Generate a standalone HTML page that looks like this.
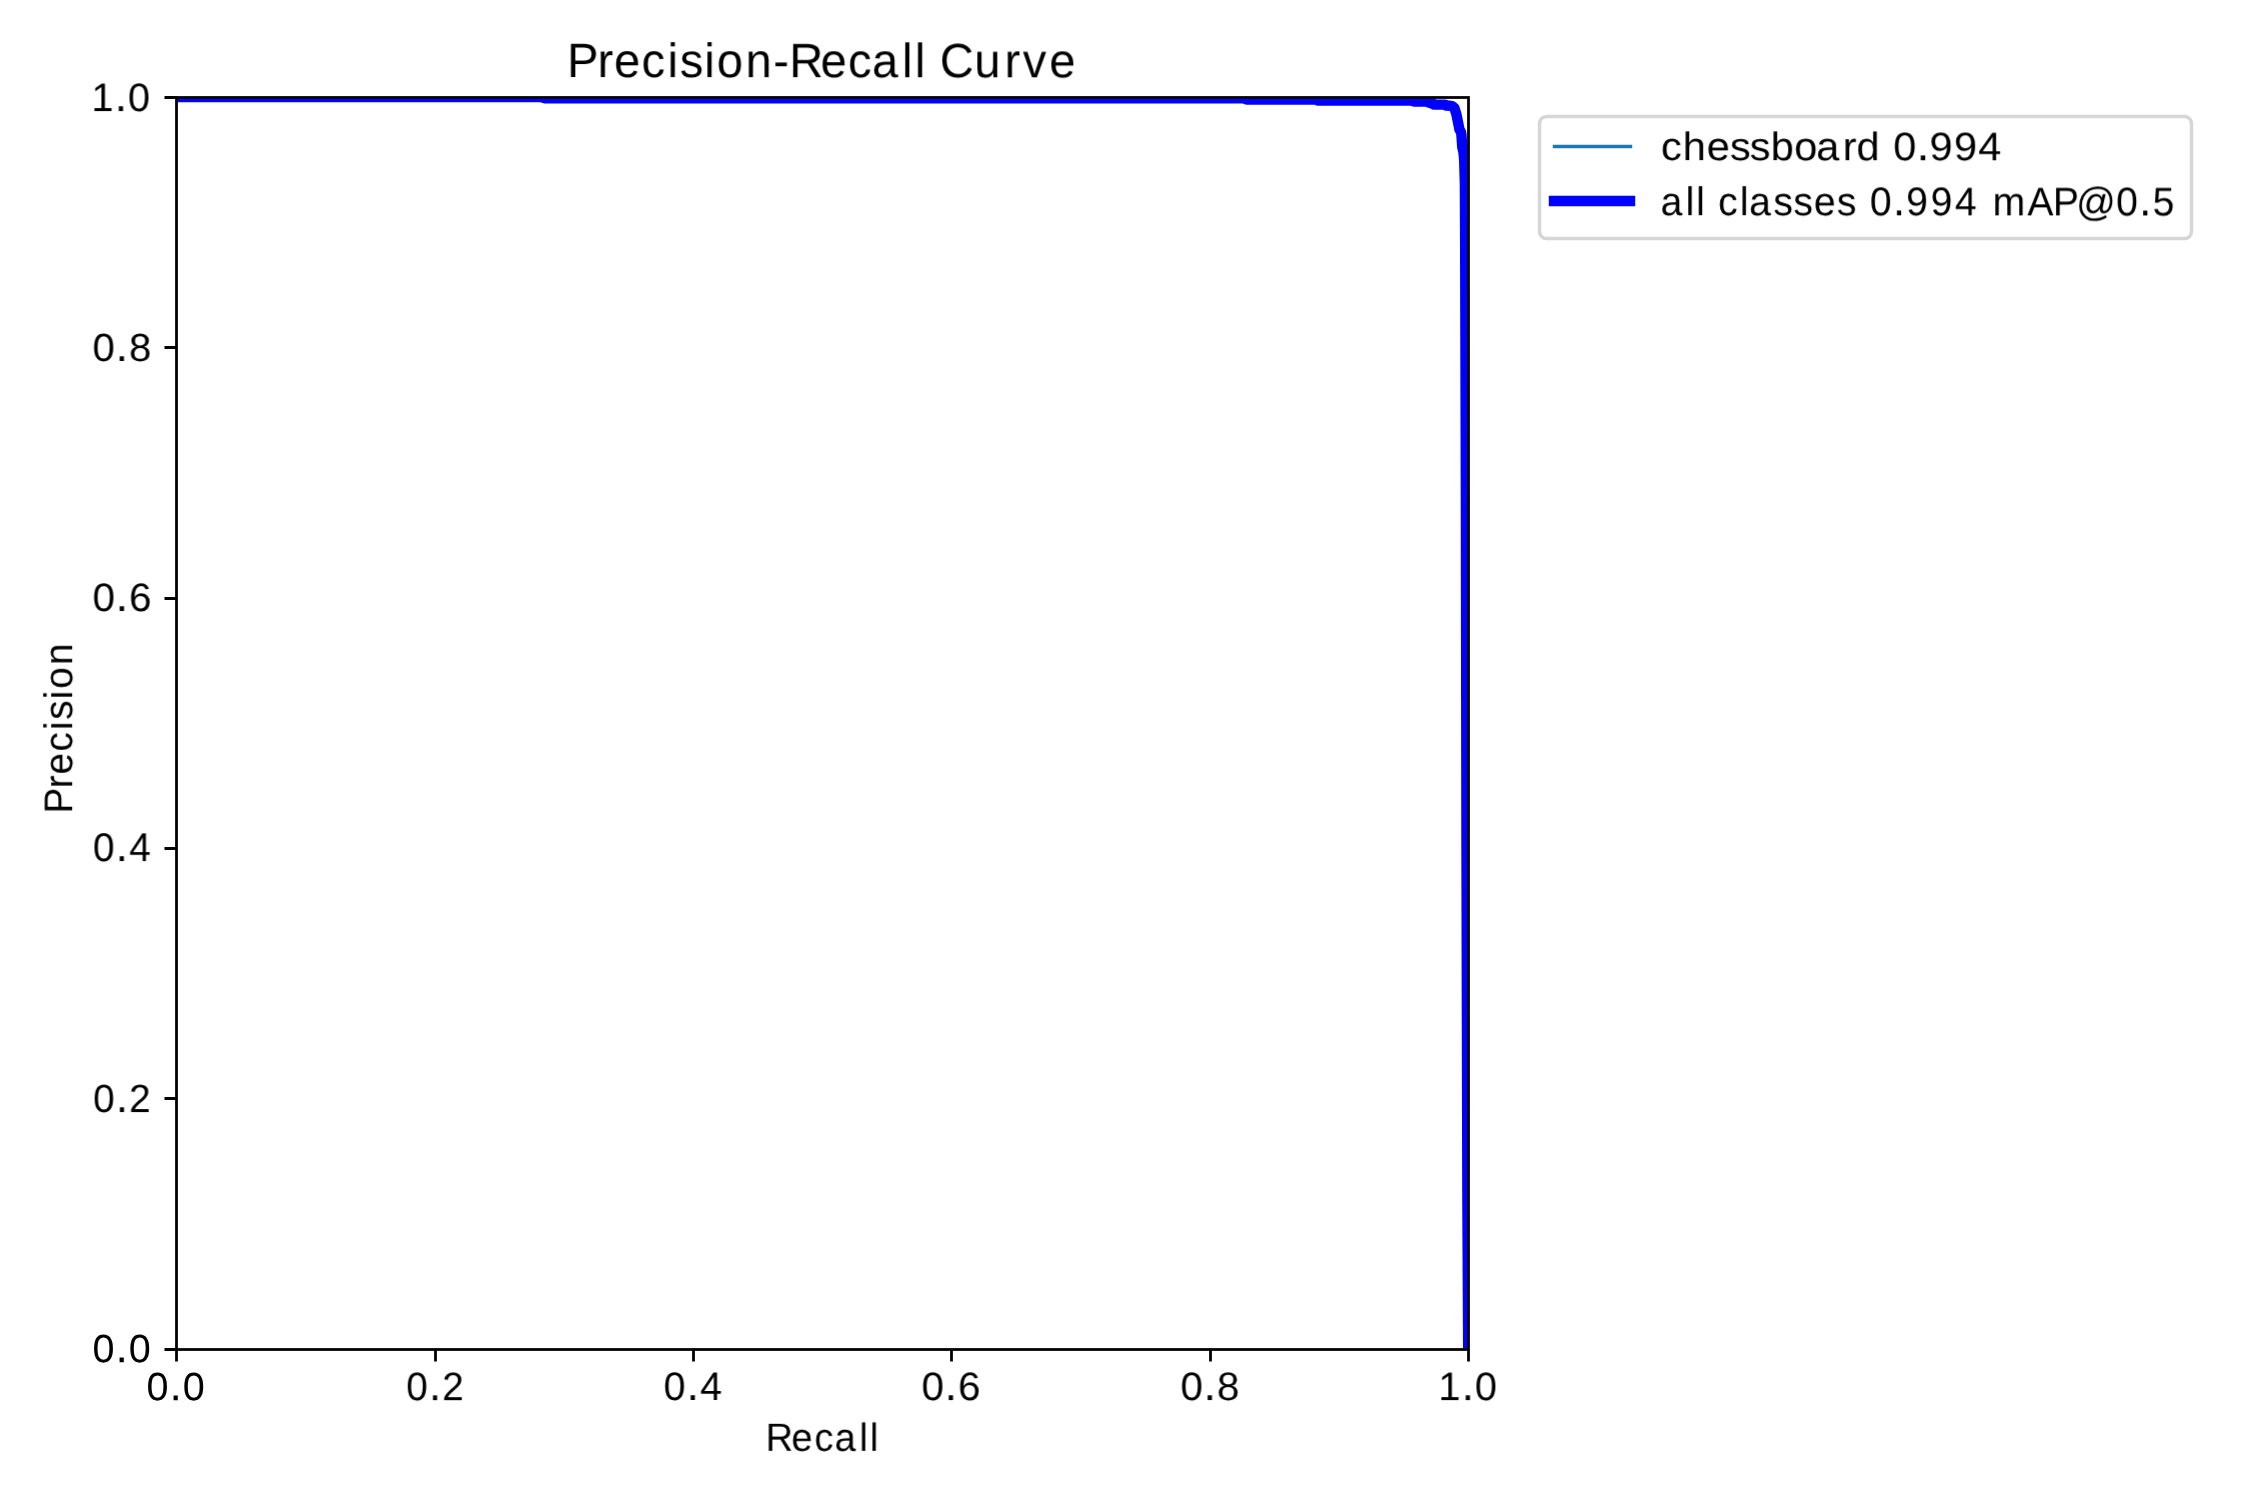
<!DOCTYPE html>
<html><head><meta charset="utf-8"><title>Precision-Recall Curve</title>
<style>
html,body{margin:0;padding:0;background:#fff;}
body{width:2250px;height:1500px;overflow:hidden;}
svg{display:block;}
text{font-family:"Liberation Sans",sans-serif;fill:#000;text-rendering:geometricPrecision;}
.t{will-change:transform;opacity:0.999;}
</style></head><body>
<svg width="2250" height="1500" viewBox="0 0 2250 1500">
<defs><clipPath id="ax"><rect x="176.319" y="97.083" width="1291.584" height="1251.473"/></clipPath></defs>
<rect x="0" y="0" width="2250" height="1500" fill="#fff"/>
<g clip-path="url(#ax)" fill="none" stroke-linejoin="round" stroke-linecap="square">
<path d="M176.32 97.08 L541.50 97.08 L544.50 98.25 L1243.50 98.25 L1246.50 99.45 L1315.20 99.45 L1318.20 100.60 L1411.40 100.60 L1414.40 101.60 L1427.30 101.60 L1428.30 102.50 L1430.00 102.50 L1430.70 103.30 L1432.70 103.30 L1434.00 104.60 L1445.00 104.60 L1446.50 105.60 L1449.80 105.70 L1452.50 106.40 L1454.50 108.20 L1456.40 114.30 L1458.10 122.50 L1459.40 129.30 L1461.00 132.30 L1461.40 134.40 L1462.30 147.20 L1463.50 152.30 L1464.20 160.00 L1464.90 184.00 L1465.20 250.00 L1465.90 500.00 L1466.50 850.00 L1467.40 1200.00 L1468.20 1348.56" stroke="#1f77b4" stroke-width="3.472"/>
<path d="M176.32 97.08 L541.50 97.08 L544.50 98.25 L1243.50 98.25 L1246.50 99.45 L1315.20 99.45 L1318.20 100.60 L1411.40 100.60 L1414.40 101.60 L1427.30 101.60 L1428.30 102.50 L1430.00 102.50 L1430.70 103.30 L1432.70 103.30 L1434.00 104.60 L1445.00 104.60 L1446.50 105.60 L1449.80 105.70 L1452.50 106.40 L1454.50 108.20 L1456.40 114.30 L1458.10 122.50 L1459.40 129.30 L1461.00 132.30 L1461.40 134.40 L1462.30 147.20 L1463.50 152.30 L1464.20 160.00 L1464.90 184.00 L1465.20 250.00 L1465.90 500.00 L1466.50 850.00 L1467.40 1200.00 L1468.20 1348.56" stroke="#0000ff" stroke-width="10.417"/>
</g>
<rect x="176.5" y="97.5" width="1292" height="1252" fill="none" stroke="#000" stroke-width="2.778" stroke-linejoin="miter"/>
<path d="M176.5 1349.5V1361.5M435.5 1349.5V1361.5M693.5 1349.5V1361.5M951.5 1349.5V1361.5M1210.5 1349.5V1361.5M1468.5 1349.5V1361.5M164.5 97.5H176.5M164.5 347.5H176.5M164.5 598.5H176.5M164.5 848.5H176.5M164.5 1098.5H176.5M164.5 1349.5H176.5" stroke="#000" stroke-width="2.778" fill="none"/>
<rect x="1539.5" y="116.5" width="652.0" height="122.0" rx="6.9" ry="6.9" fill="#fff" stroke="#d6d6d6" stroke-width="3.472"/>
<path d="M1554.5 146.5H1630.5" stroke="#1f77b4" stroke-width="3.472" stroke-linecap="square" fill="none"/>
<path d="M1554.0 201.0H1630.0" stroke="#0000ff" stroke-width="10.417" stroke-linecap="square" fill="none"/>
<g class="t">
<text transform="translate(568.290,77.203) rotate(0.03,240.0,0) scale(0.9766,1)" x="-1.13 30.11 46.97 75.04 101.76 114.12 139.28 152.10 181.45 210.09 226.26 258.32 286.39 311.15 341.87 354.92 365.64 380.44 415.90 446.85 465.44 492.53" y="0" font-size="48.218">Precision-Recall Curve</text>
<text transform="translate(765.422,1450.845) rotate(0.03,52.4,0) scale(0.9646,1)" x="0.22 27.06 50.74 71.69 97.38 108.40" y="0" font-size="39.387">Recall</text>
<text transform="translate(72.198,812.794) rotate(-90) scale(0.9706,1)" x="-0.79 25.36 39.50 63.04 85.39 95.82 116.87 127.70 152.32" y="0" font-size="39.987">Precision</text>
<text transform="translate(90.451,111.105) rotate(0.03,19.3,0) scale(0.9954,1)" x="0.93 24.26 37.78" y="0" font-size="39.919">1<tspan font-size="45.109">.</tspan>0</text>
<text transform="translate(1437.374,1400.127) rotate(0.03,19.2,0) scale(0.9982,1)" x="0.90 24.20 37.64" y="0" font-size="39.864">1<tspan font-size="45.046">.</tspan>0</text>
<text transform="translate(91.533,361.042) rotate(0.03,19.2,0) scale(1.0195,1)" x="0.97 23.65 36.77" y="0" font-size="39.320">0<tspan font-size="44.432">.</tspan>8</text>
<text transform="translate(1179.463,1400.080) rotate(0.03,19.2,0) scale(1.0175,1)" x="0.89 23.64 36.76" y="0" font-size="39.726">0<tspan font-size="44.890">.</tspan>8</text>
<text transform="translate(91.539,611.057) rotate(0.03,19.2,0) scale(1.0136,1)" x="0.90 23.74 36.91" y="0" font-size="39.866">0<tspan font-size="45.049">.</tspan>6</text>
<text transform="translate(920.538,1400.097) rotate(0.03,19.2,0) scale(1.0121,1)" x="0.92 23.76 36.98" y="0" font-size="39.902">0<tspan font-size="45.089">.</tspan>6</text>
<text transform="translate(91.492,861.100) rotate(0.03,19.6,0) scale(0.9652,1)" x="1.40 25.17 39.21" y="0" font-size="40.265">0<tspan font-size="45.500">.</tspan>4</text>
<text transform="translate(662.385,1400.006) rotate(0.03,19.5,0) scale(0.9868,1)" x="1.23 24.53 38.21" y="0" font-size="39.915">0<tspan font-size="45.104">.</tspan>4</text>
<text transform="translate(91.671,1112.088) rotate(0.03,19.4,0) scale(0.9775,1)" x="1.42 24.88 38.24" y="0" font-size="39.566">0<tspan font-size="44.709">.</tspan>2</text>
<text transform="translate(404.746,1400.171) rotate(0.03,19.4,0) scale(0.9727,1)" x="1.40 25.00 38.41" y="0" font-size="39.849">0<tspan font-size="45.029">.</tspan>2</text>
<text transform="translate(91.215,1362.336) rotate(0.03,19.4,0) scale(0.9971,1)" x="1.18 24.25 37.78" y="0" font-size="39.659">0<tspan font-size="44.815">.</tspan>0</text>
<text transform="translate(145.215,1400.336) rotate(0.03,19.4,0) scale(0.9971,1)" x="1.18 24.25 37.78" y="0" font-size="39.659">0<tspan font-size="44.815">.</tspan>0</text>
<text transform="translate(1661.284,160.203) rotate(0.03,158.4,0) scale(1.0444,1)" x="-0.35 20.67 43.60 65.72 84.80 104.79 127.42 148.43 173.70 186.93 209.11 222.04 244.35 256.87 280.17 303.59" y="0" font-size="39.854">chessboard 0<tspan font-size="45.034">.</tspan>994</text>
<text transform="translate(1661.128,215.318) rotate(0.03,245.4,0) scale(0.9746,1)" x="-0.58 25.05 35.95 44.87 58.64 80.91 90.23 115.33 135.78 156.76 180.37 200.44 214.15 237.72 251.47 276.44 301.53 323.85 340.17 375.92 401.86 425.74 466.97 490.54 504.27" y="0" font-size="40.139">all classes 0<tspan font-size="45.358">.</tspan>994 mAP@0<tspan font-size="45.358">.</tspan>5</text>
</g>
</svg>
</body></html>
